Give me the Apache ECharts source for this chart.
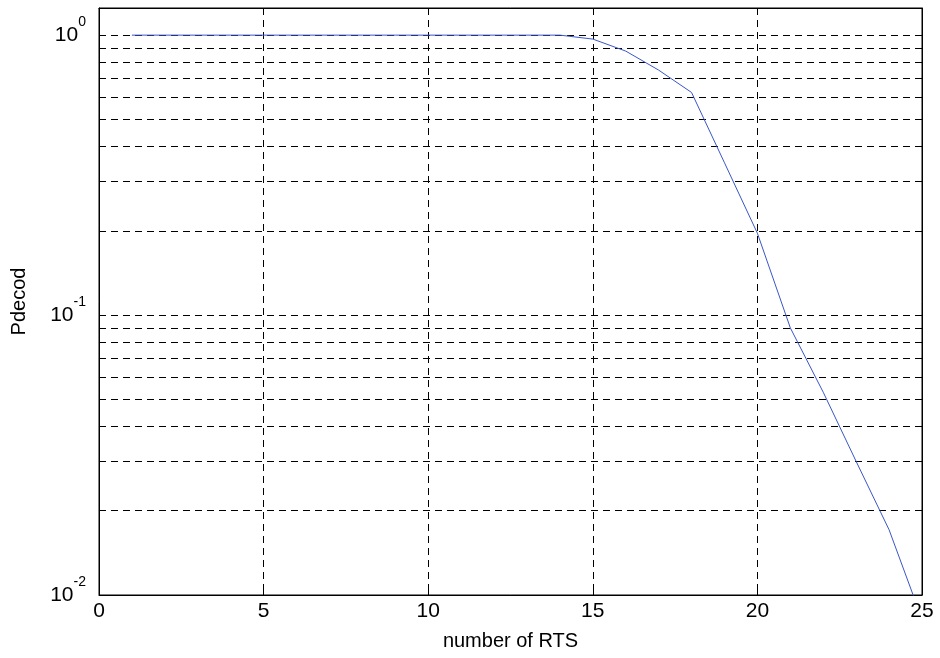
<!DOCTYPE html>
<html>
<head>
<meta charset="utf-8">
<script src="https://cdn.jsdelivr.net/npm/echarts@6/dist/echarts.min.js"></script>
<style>
html,body{margin:0;padding:0;background:#fff;}
#chart{width:940px;height:658px;}
</style>
</head>
<body>
<div id="chart"></div>
<script>
// Data
const rtsCounts = [1,2,3,4,5,6,7,8,9,10,11,12,13,14,15,16,17,18,19,20,21,22,23,24,25];
const pdecod = [1,1,1,1,1,1,1,1,1,1,1,1,1,1,0.968,0.877,0.75,0.624,0.35,0.196,0.09,0.053,0.030,0.0171,0.0082];
const xTickValues = [0,5,10,15,20,25];
const minorGridValues = [0.02,0.03,0.04,0.05,0.06,0.07,0.08,0.09,0.2,0.3,0.4,0.5,0.6,0.7,0.8,0.9];

const FONT = 'Liberation Sans, Arial, sans-serif';
const dash = [7,5];

const chart = echarts.init(document.getElementById('chart'), null, {renderer:'canvas'});
chart.setOption({
  animation: false,
  backgroundColor: '#fff',
  grid: {left: 99, top: 8, right: 18, bottom: 63, show: true, borderColor: '#000', borderWidth: 1, backgroundColor: 'transparent'},
  xAxis: [{
    type: 'value', min: 0, max: 25, interval: 5, position: 'bottom',
    name: 'number of RTS', nameLocation: 'middle', nameGap: 36,
    nameTextStyle: {fontFamily: FONT, fontSize: 20, color: '#000'},
    axisLine: {show: true, onZero: false, lineStyle: {color: '#000', width: 1}},
    axisTick: {show: true, inside: true, length: 6, lineStyle: {color: '#000'}},
    axisLabel: {fontFamily: FONT, fontSize: 21, color: '#000', margin: 6},
    splitLine: {show: true, lineStyle: {color: '#000', type: dash, width: 1}}
  },{
    type: 'value', min: 0, max: 25, interval: 5, position: 'top',
    axisLine: {show: true, onZero: false, lineStyle: {color: '#000'}},
    axisTick: {show: true, inside: true, length: 6, lineStyle: {color: '#000'}},
    axisLabel: {show: false}, splitLine: {show: false}
  }],
  yAxis: [{
    type: 'log', logBase: 10, min: 0.01, max: 1.25, position: 'left',
    name: 'Pdecod', nameLocation: 'middle', nameGap: 70,
    nameTextStyle: {fontFamily: FONT, fontSize: 20, color: '#000'},
    axisLine: {show: true, onZero: false, lineStyle: {color: '#000'}},
    axisTick: {show: true, inside: true, length: 6, lineStyle: {color: '#000'}},
    axisLabel: {
      margin: 13, color: '#000', fontFamily: FONT,
      formatter: function (v) {
        const l = Math.log10(v); const e = Math.round(l);
        if (Math.abs(l - e) > 1e-6) return '';
        return '{b|10}{s|' + e + '}';
      },
      rich: {
        b: {fontFamily: FONT, fontSize: 21, color: '#000', verticalAlign: 'middle', lineHeight: 40},
        s: {fontFamily: FONT, fontSize: 14, color: '#000', verticalAlign: 'top', lineHeight: 14}
      }
    },
    splitLine: {show: true, lineStyle: {color: '#000', type: dash, width: 1}}
  },{
    type: 'log', logBase: 10, min: 0.01, max: 1.25, position: 'right',
    axisLine: {show: true, onZero: false, lineStyle: {color: '#000'}},
    axisTick: {show: true, inside: true, length: 6, lineStyle: {color: '#000'}},
    axisLabel: {show: false}, splitLine: {show: false}
  }],
  series: [{
    type: 'line', z: 1, data: [], silent: true,
    markLine: {
      silent: true, symbol: ['none','none'], label: {show: false}, animation: false,
      lineStyle: {color: '#000', type: dash, width: 1},
      data: minorGridValues.map(v => ({yAxis: v}))
    }
  },{
    type: 'line', z: 5, clip: true, symbol: 'none', showSymbol: false,
    data: rtsCounts.map((x, i) => [x, pdecod[i]]),
    lineStyle: {color: '#3a56c8', width: 1}, itemStyle: {color: '#3a56c8'}
  }]
});
</script>
</body>
</html>
